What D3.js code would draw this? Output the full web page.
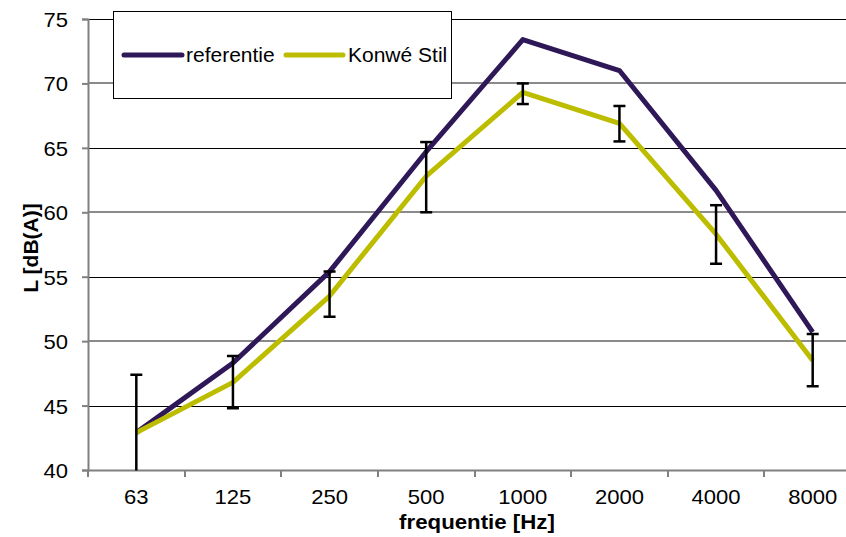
<!DOCTYPE html>
<html><head><meta charset="utf-8">
<script src="https://cdn.jsdelivr.net/npm/d3@7"></script>
<style>
html,body{margin:0;padding:0;background:#fff;}
svg{display:block;font-family:"Liberation Sans",Arial,sans-serif;}
</style></head>
<body><svg id="c" width="846" height="537"></svg>
<script>
const categories = ["63","125","250","500","1000","2000","4000","8000"];
const referentie = [42.9, 48.3, 55.4, 64.7, 73.4, 71.0, 61.7, 50.7];
const konwe = [42.9, 46.8, 53.5, 62.8, 69.3, 66.9, 58.3, 48.5];
const errLow = [38.4, 44.8, 51.9, 60.0, 68.4, 65.5, 56.0, 46.5];
const errHigh = [47.4, 48.85, 55.4, 65.45, 70.0, 68.25, 60.55, 50.55];
const yTicks = [40,45,50,55,60,65,70,75];
const seriesNames = ["referentie","Konwé Stil"];
const colors = ["#2E1858","#BDBD00"];

const svg = d3.select("#c");
const L = 88, R = 861, T = 19, B = 470;
const FS = "21px";
const x = d3.scaleBand().domain(categories).range([L, R]);
const y = d3.scaleLinear().domain([40, 75]).range([B, T]);
function stretch(sel, k){
  sel.each(function(){
    const len = this.getComputedTextLength();
    d3.select(this).attr("textLength", len*k).attr("lengthAdjust","spacingAndGlyphs");
  });
}

svg.append("clipPath").attr("id","pc").append("rect")
  .attr("x", L).attr("y", 0).attr("width", R-L).attr("height", B+0.5);

// gridlines
yTicks.forEach((t,i)=>{
  if (t===40) return;
  const yy = Math.round(y(t));
  const dark = (i % 2 === 1);
  svg.append("line")
    .attr("x1", L).attr("x2", R)
    .attr("y1", dark ? yy+0.5 : yy).attr("y2", dark ? yy+0.5 : yy)
    .attr("stroke", dark ? "#000" : "#8a8a8a")
    .attr("stroke-width", dark ? 1 : 2);
});

// y axis
const yAxis = d3.axisLeft(y).tickValues(yTicks).tickSize(6).tickPadding(14);
const ga = svg.append("g").attr("transform", `translate(${L},0)`).call(yAxis);
ga.select(".domain").attr("stroke","#808080").attr("stroke-width",2);
ga.selectAll(".tick line").attr("stroke","#808080").attr("stroke-width",2);
ga.selectAll(".tick text").attr("font-size",FS).attr("fill","#000")
  .attr("font-family","Liberation Sans, Arial, sans-serif").attr("dy","0.36em");
stretch(ga.selectAll(".tick text"), 1.05);

// x axis
const xAxis = d3.axisBottom(x).tickSize(0).tickPadding(19);
const gx = svg.append("g").attr("transform", `translate(0,${B})`).call(xAxis);
gx.select(".domain").attr("stroke","#808080").attr("stroke-width",2);
gx.selectAll(".tick text").attr("font-size",FS).attr("fill","#000")
  .attr("font-family","Liberation Sans, Arial, sans-serif").attr("dy","0.71em");
stretch(gx.selectAll(".tick text"), 1.05);
const bounds = categories.map(c => x(c)).concat([R]);
svg.append("g").selectAll("line").data(bounds).join("line")
  .attr("x1", d=>Math.round(d)).attr("x2", d=>Math.round(d))
  .attr("y1", B).attr("y2", B+7)
  .attr("stroke","#808080").attr("stroke-width",2);

// lines
const cx = c => x(c) + x.bandwidth()/2;
const line = d3.line().x((d,i)=>cx(categories[i])).y(d=>y(d));
const plot = svg.append("g").attr("clip-path","url(#pc)");
[referentie, konwe].forEach((s,k)=>{
  plot.append("path").datum(s).attr("d", line)
    .attr("fill","none").attr("stroke", colors[k]).attr("stroke-width",5)
    .attr("stroke-linejoin","round");
});

// error bars
const eb = plot.append("g").attr("stroke","#000").attr("stroke-width",2.5);
categories.forEach((c,i)=>{
  const xx = cx(c);
  eb.append("line").attr("x1",xx).attr("x2",xx).attr("y1",y(errLow[i])).attr("y2",y(errHigh[i]));
  eb.append("line").attr("x1",xx-6).attr("x2",xx+6).attr("y1",y(errHigh[i])).attr("y2",y(errHigh[i]));
  eb.append("line").attr("x1",xx-6).attr("x2",xx+6).attr("y1",y(errLow[i])).attr("y2",y(errLow[i]));
});

// legend
const lg = svg.append("g");
lg.append("rect").attr("x",113.5).attr("y",11.5).attr("width",338).attr("height",87)
  .attr("fill","#fff").attr("stroke","#000").attr("stroke-width",1);
const legItems = [{x1:124,x2:182,tx:186},{x1:286,x2:343,tx:348}];
legItems.forEach((it,k)=>{
  lg.append("line").attr("x1",it.x1).attr("x2",it.x2).attr("y1",55).attr("y2",55)
    .attr("stroke",colors[k]).attr("stroke-width",5).attr("stroke-linecap","round");
  lg.append("text").attr("x",it.tx).attr("y",62).attr("font-size",FS)
    .text(seriesNames[k]);
});

// axis titles
const xt = svg.append("text").attr("x",477).attr("y",529).attr("text-anchor","middle")
  .attr("font-size",FS).attr("font-weight","bold").text("frequentie [Hz]");
stretch(xt, 1.06);
svg.append("text").attr("transform","translate(38,248) rotate(-90)")
  .attr("text-anchor","middle").attr("font-size",FS).attr("font-weight","bold")
  .text("L [dB(A)]");
</script></body></html>
